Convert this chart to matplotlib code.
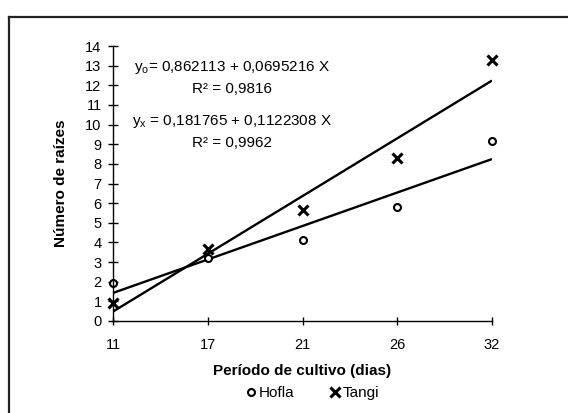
import matplotlib
matplotlib.use("Agg")
import matplotlib.pyplot as plt
import numpy as np
from matplotlib.lines import Line2D

plt.rcParams['font.family'] = ['Liberation Sans', 'DejaVu Sans']
plt.rcParams['mathtext.fontset'] = 'custom'
plt.rcParams['mathtext.rm'] = 'Liberation Sans'
plt.rcParams['mathtext.it'] = 'Liberation Sans'

dias = ["11", "17", "21", "26", "32"]
hofla = [1.92, 3.2, 4.13, 5.78, 9.15]
tangi = [0.9, 3.66, 5.66, 8.3, 13.28]

eq_hofla = r"$\mathregular{y_o}$= 0,862113 + 0,0695216 X"
r2_hofla = "R² = 0,9816"
eq_tangi = r"$\mathregular{y_x}$ = 0,181765 + 0,1122308 X"
r2_tangi = "R² = 0,9962"

W, H = 568, 413
fig = plt.figure(figsize=(W / 100, H / 100), dpi=100)
ax = fig.add_axes([113 / W, 1 - 321 / H, (492 - 113) / W, (321 - 46) / H])

pos = np.arange(len(dias))

# excel style linear trendlines over the category index
for vals in (hofla, tangi):
    k, b = np.polyfit(pos, vals, 1)
    ax.plot(pos, k * pos + b, color="black", lw=1.7, solid_capstyle="butt")

ax.plot(pos, hofla, ls="none", marker="o", ms=5, mfc="white", mec="black",
        mew=1.5, clip_on=False, label="Hofla")
ax.plot(pos, tangi, ls="none", marker="x", ms=7, mec="black", mew=2.2,
        clip_on=False, label="Tangi")

ax.set_xlim(0, 4)
ax.set_ylim(0, 14)
ax.set_xticks(pos)
ax.set_xticklabels(dias)
ax.set_yticks(np.arange(0, 15, 1))

for s in ("top", "right"):
    ax.spines[s].set_visible(False)
for s in ("left", "bottom"):
    ax.spines[s].set_linewidth(1.0)
ax.tick_params(axis="x", direction="inout", length=6, width=1.0, pad=9, labelsize=10.5)
ax.tick_params(axis="y", direction="inout", length=6.5, width=1.0, pad=5, labelsize=10.5)

ax.set_xlabel("Período de cultivo (dias)", fontsize=11, fontweight="bold", labelpad=9)
ax.yaxis.set_label_coords(-(113 - 68) / 379, 0.5)
ax.set_ylabel("Número de raízes", fontsize=11, fontweight="bold")

tx = (232 - 113) / 379
for txt, yy in ((eq_hofla, 68), (r2_hofla, 89), (eq_tangi, 122), (r2_tangi, 143)):
    ax.text(tx, (321 - yy) / 275, txt, transform=ax.transAxes, ha="center",
            va="center", fontsize=11)

fig.legend(loc="center", bbox_to_anchor=(313 / W, 1 - 393 / H), ncol=2,
           frameon=False, fontsize=11, handlelength=0.6, handletextpad=0.2,
           columnspacing=2.4, borderaxespad=0)

# outer frame, only top and left edges visible in the crop
fig.add_artist(Line2D([9 / W, 1], [1 - 17 / H, 1 - 17 / H], color="#222222", lw=1.6))
fig.add_artist(Line2D([9 / W, 9 / W], [0, 1 - 17 / H], color="#222222", lw=1.6))

fig.savefig("out.png", dpi=100)
